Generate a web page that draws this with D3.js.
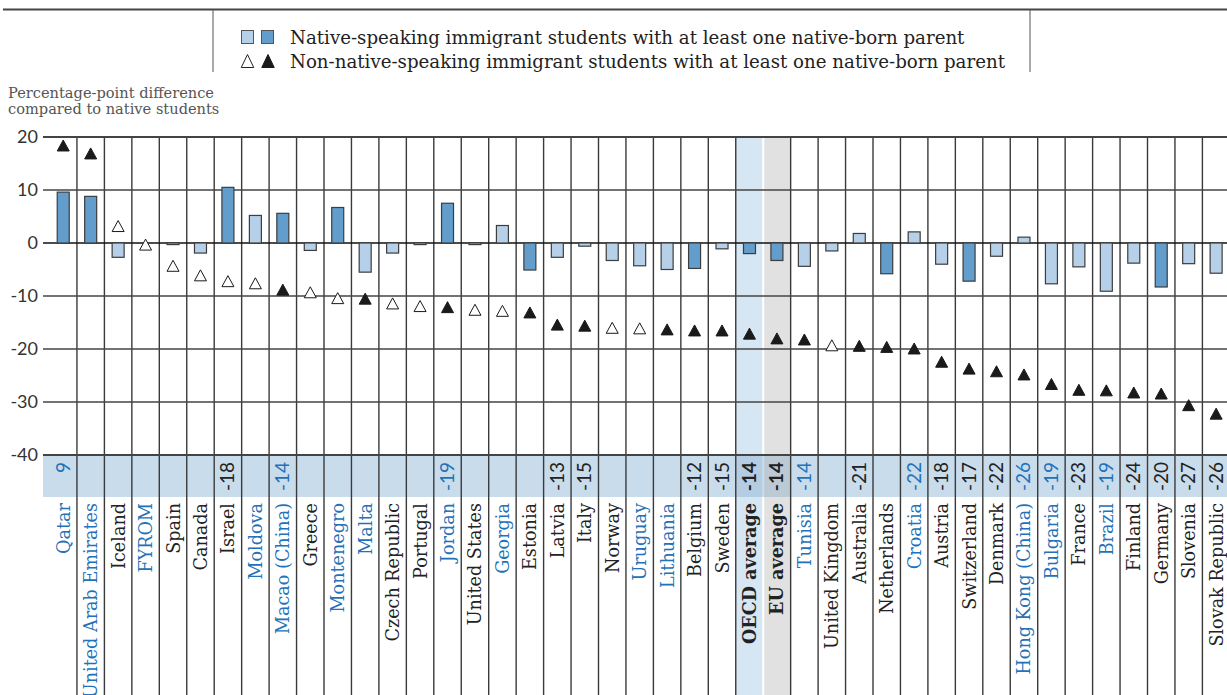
<!DOCTYPE html>
<html lang="en">
<head>
<meta charset="UTF-8">
<title>Immigrant students: percentage-point difference</title>
<style>
    body { margin: 0; background: #fff; }
    svg { display: block; }
    .serif { font-family: "DejaVu Serif", serif; }
    .sans { font-family: Lato, "Open Sans", sans-serif; }
</style>
<script src="https://cdn.jsdelivr.net/npm/d3@7"></script>
</head>
<body>
<svg width="1227" height="695"></svg>
<script>
    // countries in chart order
    const countries = ["Qatar", "United Arab Emirates", "Iceland", "FYROM", "Spain", "Canada", "Israel",
        "Moldova", "Macao (China)", "Greece", "Montenegro", "Malta", "Czech Republic", "Portugal", "Jordan",
        "United States", "Georgia", "Estonia", "Latvia", "Italy", "Norway", "Uruguay", "Lithuania", "Belgium",
        "Sweden", "OECD average", "EU average", "Tunisia", "United Kingdom", "Australia", "Netherlands",
        "Croatia", "Austria", "Switzerland", "Denmark", "Hong Kong (China)", "Bulgaria", "France", "Brazil",
        "Finland", "Germany", "Slovenia", "Slovak Republic"];

    // partner countries/economies (blue labels)
    const partners = ["Qatar", "United Arab Emirates", "FYROM", "Moldova", "Macao (China)", "Montenegro",
        "Malta", "Jordan", "Georgia", "Uruguay", "Lithuania", "Tunisia", "Croatia", "Hong Kong (China)",
        "Bulgaria", "Brazil"];

    // native-speaking immigrant students with at least one native-born parent (bars)
    const nativeSpeaking = [9.6, 8.8, -2.7, null, -0.3, -1.9, 10.5, 5.2, 5.6, -1.4, 6.7, -5.5, -1.9, -0.3,
        7.5, -0.3, 3.3, -5.1, -2.7, -0.6, -3.3, -4.3, -5.0, -4.8, -1.1, -2.0, -3.3, -4.4, -1.5, 1.8, -5.8,
        2.1, -4.0, -7.2, -2.5, 1.1, -7.7, -4.5, -9.1, -3.8, -8.3, -3.9, -5.7];
    const nativeSig = [1, 1, 0, 0, 0, 0, 1, 0, 1, 0, 1, 0, 0, 0, 1, 0, 0, 1, 0, 0, 0, 0, 0, 1, 0, 1, 1, 0,
        0, 0, 1, 0, 0, 1, 0, 0, 0, 0, 0, 0, 1, 0, 0];

    // non-native-speaking immigrant students with at least one native-born parent (triangles)
    const nonNativeSpeaking = [18.4, 16.9, 3.2, -0.3, -4.3, -6.1, -7.2, -7.6, -8.8, -9.3, -10.4, -10.5,
        -11.4, -11.9, -12.1, -12.6, -12.8, -13.1, -15.4, -15.6, -16.0, -16.1, -16.3, -16.5, -16.5, -17.1,
        -18.0, -18.2, -19.3, -19.4, -19.6, -19.9, -22.4, -23.7, -24.2, -24.8, -26.6, -27.7, -27.8, -28.2,
        -28.4, -30.6, -32.2];
    const nonNativeSig = [1, 1, 0, 0, 0, 0, 0, 0, 1, 0, 0, 1, 0, 0, 1, 0, 0, 1, 1, 1, 0, 0, 1, 1, 1, 1, 1,
        1, 0, 1, 1, 1, 1, 1, 1, 1, 1, 1, 1, 1, 1, 1, 1];

    // numbers shown in the band under the plot
    const bandValues = [9, null, null, null, null, null, -18, null, -14, null, null, null, null, null, -19,
        null, null, null, -13, -15, null, null, null, -12, -15, -14, -14, -14, null, -21, null, -22, -18,
        -17, -22, -26, -19, -23, -19, -24, -20, -27, -26];

    const yTicks = [20, 10, 0, -10, -20, -30, -40];

    const blue = "#2372b9", ink = "#222", lightBar = "#b5d0e8", darkBar = "#629dcc";

    const svg = d3.select("svg");

    const x = d3.scaleBand().domain(countries).range([49.5, 49.5 + countries.length * 27.45]);
    const y = d3.scaleLinear().domain([-40, 20]).range([455, 137]);
    const bw = x.bandwidth();
    const plotLeft = 43, bandBottom = 497, bottom = 695;

    const labelColor = d => partners.includes(d) ? blue : ink;
    const isAvg = d => d === "OECD average" || d === "EU average";

    function tri(cx, cy, w, h) {
        return `M${cx},${cy - h / 2}L${cx + w / 2},${cy + h / 2}L${cx - w / 2},${cy + h / 2}Z`;
    }

    // ---- top rule and legend ----
    svg.append("line").attr("x1", 3).attr("x2", 1227).attr("y1", 9.5).attr("y2", 9.5)
        .attr("stroke", "#444").attr("stroke-width", 2);
    [213, 1030].forEach(function (lx) {
        svg.append("line").attr("x1", lx).attr("x2", lx).attr("y1", 10).attr("y2", 72)
            .attr("stroke", "#555").attr("stroke-width", 1);
    });

    const legend = svg.append("g");
    legend.append("rect").attr("x", 241.5).attr("y", 30.5).attr("width", 12).attr("height", 13)
        .attr("fill", lightBar).attr("stroke", "#555");
    legend.append("rect").attr("x", 261.5).attr("y", 30.5).attr("width", 12).attr("height", 13)
        .attr("fill", darkBar).attr("stroke", "#555");
    legend.append("path").attr("d", tri(247.5, 61, 12.5, 13)).attr("fill", "#fff").attr("stroke", "#222");
    legend.append("path").attr("d", tri(268, 61, 12.5, 13)).attr("fill", "#1a1a1a").attr("stroke", "#1a1a1a");
    legend.append("text").attr("class", "serif").attr("x", 290).attr("y", 44)
        .attr("font-size", 18.2).attr("fill", ink)
        .text("Native-speaking immigrant students with at least one native-born parent");
    legend.append("text").attr("class", "serif").attr("x", 290).attr("y", 68)
        .attr("font-size", 18.2).attr("fill", ink)
        .text("Non-native-speaking immigrant students with at least one native-born parent");

    // axis title
    svg.append("text").attr("class", "serif").attr("fill", "#555").attr("font-size", 14.6)
        .selectAll("tspan").data(["Percentage-point difference", "compared to native students"])
        .enter().append("tspan").attr("x", 8).attr("y", (d, i) => 98 + i * 15.5).text(d => d);

    // ---- highlight columns ----
    svg.append("rect").attr("x", x("OECD average")).attr("y", y(20)).attr("width", bw - 1)
        .attr("height", bottom - y(20)).attr("fill", "#d7e6f3");
    svg.append("rect").attr("x", x("EU average") + 1).attr("y", y(20)).attr("width", bw - 1)
        .attr("height", bottom - y(20)).attr("fill", "#e1e1e1");

    // band with numbers
    svg.append("rect").attr("x", plotLeft).attr("y", y(-40)).attr("width", 1227 - plotLeft)
        .attr("height", bandBottom - y(-40)).attr("fill", "#c9dcec");
    svg.append("rect").attr("x", x("OECD average")).attr("y", y(-40)).attr("width", bw - 1)
        .attr("height", bandBottom - y(-40)).attr("fill", "#b4cde2");
    svg.append("rect").attr("x", x("EU average") + 1).attr("y", y(-40)).attr("width", bw - 1)
        .attr("height", bandBottom - y(-40)).attr("fill", "#bccad6");

    // ---- grid ----
    const grid = svg.append("g");
    grid.selectAll(".vline").data(d3.range(1, countries.length).filter(i => countries[i] !== "EU average"))
        .enter().append("line")
        .attr("x1", i => x(countries[i])).attr("x2", i => x(countries[i]))
        .attr("y1", y(20)).attr("y2", bottom)
        .attr("stroke", "#3a3a3a").attr("stroke-width", 1.4);
    grid.selectAll(".hline").data(yTicks).enter().append("line")
        .attr("x1", plotLeft).attr("x2", 1227)
        .attr("y1", d => y(d)).attr("y2", d => y(d))
        .attr("stroke", d => d === 0 ? "#111" : "#444")
        .attr("stroke-width", d => (d === 20 || d === -40) ? 1.8 : 1.3);

    // y tick labels
    svg.append("g").selectAll("text").data(yTicks).enter().append("text")
        .attr("class", "sans").attr("x", 38).attr("y", d => y(d)).attr("dy", "0.35em")
        .attr("text-anchor", "end").attr("font-size", 18).attr("fill", "#333")
        .text(d => d);

    // ---- bars ----
    const barW = 12;
    svg.append("g").selectAll("rect")
        .data(countries.map((c, i) => ({c: c, v: nativeSpeaking[i], sig: nativeSig[i]})).filter(d => d.v !== null))
        .enter().append("rect")
        .attr("x", d => x(d.c) + bw / 2 - barW / 2)
        .attr("y", d => y(Math.max(0, d.v)))
        .attr("width", barW)
        .attr("height", d => Math.abs(y(d.v) - y(0)))
        .attr("fill", d => d.sig ? darkBar : lightBar)
        .attr("stroke", "#3d3d3d").attr("stroke-width", 1.2);

    // ---- triangles ----
    svg.append("g").selectAll("path")
        .data(countries.map((c, i) => ({c: c, v: nonNativeSpeaking[i], sig: nonNativeSig[i]})))
        .enter().append("path")
        .attr("d", d => tri(x(d.c) + bw / 2, y(d.v), 12, 11))
        .attr("fill", d => d.sig ? "#1a1a1a" : "#fff")
        .attr("stroke", "#1a1a1a").attr("stroke-width", 1);

    // ---- band numbers ----
    svg.append("g").selectAll("text")
        .data(countries.map((c, i) => ({c: c, v: bandValues[i]})).filter(d => d.v !== null))
        .enter().append("text")
        .attr("class", "sans")
        .attr("transform", d => `translate(${x(d.c) + bw / 2 + 6.5},${y(-40) + 7})rotate(-90)`)
        .attr("text-anchor", "end").attr("font-size", 19)
        .attr("font-weight", d => isAvg(d.c) ? "bold" : "normal")
        .attr("fill", d => labelColor(d.c))
        .text(d => d.v);

    // ---- country labels ----
    svg.append("g").selectAll("text").data(countries).enter().append("text")
        .attr("class", "serif")
        .attr("transform", d => `translate(${x(d) + bw / 2 + 6.5},${bandBottom + 6})rotate(-90)`)
        .attr("text-anchor", "end").attr("font-size", 17.6)
        .attr("font-weight", d => isAvg(d) ? "bold" : "normal")
        .attr("fill", d => labelColor(d))
        .text(d => d);
</script>
</body>
</html>
